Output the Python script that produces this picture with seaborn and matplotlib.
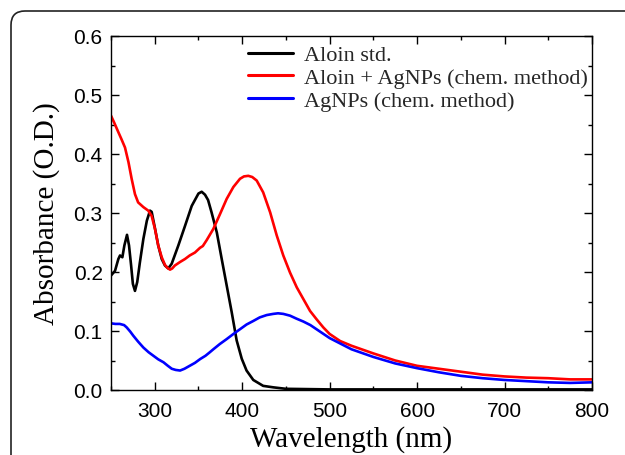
import matplotlib
matplotlib.use("Agg")
import matplotlib.pyplot as plt
import seaborn as sns
import pandas as pd
from matplotlib.ticker import MultipleLocator
from matplotlib.patches import FancyBboxPatch
from matplotlib.transforms import IdentityTransform

# ---- data ----
aloin_wl = [250, 254.6, 258.4, 260.3, 263, 265.3, 268.3, 270.6, 273, 275, 277.4, 280,
            283, 287, 291, 294.6, 296.5, 300, 304, 308, 311.7, 315.5, 319.4, 327,
            334.6, 342.3, 350, 353.7, 357.5, 361, 365, 371, 376.6, 382.3, 388, 393.7,
            399.5, 405, 412.7, 424, 435.6, 450, 500, 600, 700, 800]
aloin_abs = [0.194, 0.202, 0.222, 0.228, 0.225, 0.245, 0.263, 0.245, 0.211, 0.180,
             0.168, 0.183, 0.216, 0.256, 0.287, 0.304, 0.302, 0.276, 0.245, 0.222,
             0.211, 0.206, 0.214, 0.245, 0.278, 0.312, 0.333, 0.336, 0.331, 0.322,
             0.301, 0.267, 0.222, 0.177, 0.132, 0.084, 0.053, 0.033, 0.017, 0.007,
             0.0045, 0.002, 0.001, 0.001, 0.001, 0.001]

mix_wl = [250, 254, 258.4, 262, 266, 270, 273.6, 277.4, 281, 287, 292.6, 296.5, 300.3,
          304, 308, 311.7, 314.5, 317.5, 320, 323, 329, 334.6, 340, 346, 351.8, 355,
          359.4, 363, 367, 374.6, 382.3, 389.9, 397.5, 402, 407, 411.5, 416.6, 424,
          432, 439.5, 447, 454.7, 462.4, 470, 477.6, 485, 492.8, 500, 512, 525, 550,
          575, 600, 625, 650, 675, 700, 725, 750, 775, 800]
mix_abs = [0.465, 0.452, 0.437, 0.425, 0.411, 0.386, 0.358, 0.332, 0.318, 0.310,
           0.304, 0.295, 0.273, 0.245, 0.225, 0.212, 0.207, 0.204, 0.206, 0.211,
           0.217, 0.222, 0.228, 0.233, 0.241, 0.244, 0.254, 0.263, 0.273, 0.298,
           0.324, 0.344, 0.358, 0.362, 0.363, 0.361, 0.355, 0.335, 0.301, 0.262,
           0.228, 0.199, 0.174, 0.154, 0.134, 0.120, 0.106, 0.095, 0.083, 0.075,
           0.062, 0.050, 0.041, 0.036, 0.031, 0.026, 0.023, 0.021, 0.020, 0.018,
           0.018]

agnp_wl = [250, 255, 260, 265, 268, 272, 275.5, 281, 287, 293, 298.5, 304, 310, 315,
           319.5, 324, 329, 334, 340, 346, 352, 358, 363, 367, 374.5, 382, 390, 397.5,
           405, 412.7, 420, 428, 435.5, 441, 447, 454.7, 462, 470, 478, 485, 492, 500,
           525, 550, 575, 600, 625, 650, 675, 700, 725, 750, 775, 800]
agnp_abs = [0.113, 0.112, 0.112, 0.110, 0.106, 0.099, 0.092, 0.082, 0.072, 0.064,
            0.058, 0.052, 0.047, 0.041, 0.036, 0.034, 0.033, 0.036, 0.041, 0.046,
            0.0525, 0.058, 0.064, 0.069, 0.078, 0.086, 0.095, 0.103, 0.111, 0.117,
            0.123, 0.127, 0.129, 0.130, 0.129, 0.126, 0.121, 0.116, 0.110, 0.103,
            0.096, 0.088, 0.069, 0.056, 0.045, 0.037, 0.030, 0.024, 0.020, 0.017,
            0.015, 0.013, 0.012, 0.013]

labels = ["Aloin std.", "Aloin + AgNPs (chem. method)", "AgNPs (chem. method)"]
colors = ["#000000", "#ff0000", "#0000ff"]

df = pd.concat([
    pd.DataFrame({"wl": aloin_wl, "abs": aloin_abs, "s": labels[0]}),
    pd.DataFrame({"wl": mix_wl, "abs": mix_abs, "s": labels[1]}),
    pd.DataFrame({"wl": agnp_wl, "abs": agnp_abs, "s": labels[2]}),
], ignore_index=True)

sns.set_style("ticks")
plt.rcParams["font.family"] = ["Liberation Serif", "DejaVu Serif"]

fig = plt.figure(figsize=(6.25, 4.56), dpi=100)
fig.subplots_adjust(left=111/625, right=592/625, top=1-37/456, bottom=1-391/456)
ax = fig.add_subplot(111)

sns.lineplot(data=df, x="wl", y="abs", hue="s", palette=dict(zip(labels, colors)),
             hue_order=labels, estimator=None, sort=False, linewidth=1.9, ax=ax)

ax.set_xlim(250, 800)
ax.set_ylim(0, 0.6)
ax.xaxis.set_major_locator(MultipleLocator(100))
ax.xaxis.set_minor_locator(MultipleLocator(50))
ax.yaxis.set_major_locator(MultipleLocator(0.1))
ax.yaxis.set_minor_locator(MultipleLocator(0.05))
ax.tick_params(which="both", direction="in", top=True, right=True, color="black", width=1.0)
ax.tick_params(which="major", length=5.5)
ax.tick_params(axis="x", which="major", pad=8)
ax.tick_params(axis="y", which="major", pad=6)
ax.tick_params(which="minor", length=3)
for lab in ax.get_xticklabels() + ax.get_yticklabels():
    lab.set_fontfamily(["Liberation Sans", "DejaVu Sans"])
    lab.set_fontsize(15)
    lab.set_color("black")
for sp in ax.spines.values():
    sp.set_visible(True)
    sp.set_color("black")
    sp.set_linewidth(1.0)

ax.set_xlabel("Wavelength (nm)", fontsize=21, color="black")
ax.set_ylabel("Absorbance (O.D.)", fontsize=21, color="black")
ax.xaxis.set_label_coords(0.5, -0.10)
ax.yaxis.set_label_coords(-0.105, 0.5)

leg = ax.legend(loc="upper left", bbox_to_anchor=(0.285, 0.975), frameon=False,
                fontsize=16, handlelength=2.0, handletextpad=0.5, labelspacing=0.1,
                borderpad=0, borderaxespad=0)
for line in leg.get_lines():
    line.set_linewidth(2.2)

frame = FancyBboxPatch((11, -40), 660, 484, boxstyle="round,pad=0,rounding_size=14",
                       transform=IdentityTransform(), fill=False, edgecolor="#222222",
                       linewidth=1.2, figure=fig)
fig.patches.append(frame)

fig.savefig("out.png", dpi=100)
